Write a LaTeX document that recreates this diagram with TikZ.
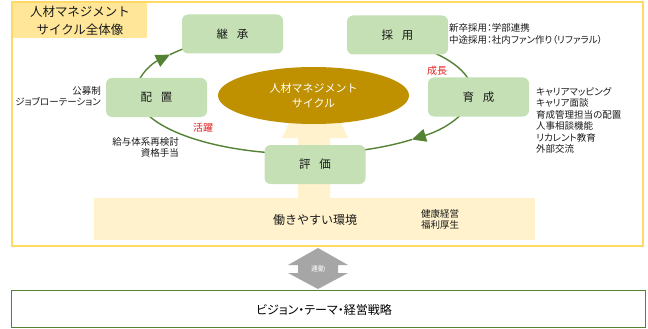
\documentclass[tikz,border=0pt]{standalone}
\usepackage{fontspec}
\setmainfont{Noto Sans CJK JP}
\newfontfamily\pfont[RawFeature=+palt]{Noto Sans CJK JP}
\usetikzlibrary{arrows.meta,calc,shapes.geometric}
\definecolor{frameY}{HTML}{FFD966}
\definecolor{titleY}{HTML}{FFE699}
\definecolor{paleY}{HTML}{FFF2CC}
\definecolor{boxG}{HTML}{C5E0B4}
\definecolor{ringG}{HTML}{548235}
\definecolor{goldC}{HTML}{BF9000}
\definecolor{redT}{HTML}{E0201E}
\definecolor{grayA}{HTML}{A6A6A6}
\definecolor{txt}{HTML}{1A1A1A}
\begin{document}
\begin{tikzpicture}[x=1pt,y=-1pt,
  stagebox/.style={rectangle, rounded corners=6pt, fill=boxG, minimum width=101pt, minimum height=39pt, inner sep=0pt, text=txt, font=\fontsize{11.5}{13}\selectfont},
  sidetext/.style={text=txt, inner sep=0pt, font=\pfont\fontsize{9.5}{11.4}\selectfont},
  redlabel/.style={text=redT, inner sep=0pt, font=\pfont\fontsize{10}{12}\selectfont},
  ring/.style={draw=ringG, line width=1.4pt},
  ringarrow/.style={ring, -{Triangle[length=14pt,width=13pt]}},
]
\useasboundingbox (0,0) rectangle (648,329);
% outer frame and title
\node[draw=frameY, line width=2pt, minimum width=631pt, minimum height=244pt, inner sep=0pt] (frame) at (327.5,124) {};
\node[fill=titleY, minimum width=134pt, minimum height=35pt, inner sep=0pt, align=center, text=txt, font=\fontsize{12.5}{18}\selectfont] (title) at (80,20.5) {人材マネジメント\\サイクル全体像};
% environment band and up arrow
\node[fill=paleY, minimum width=441pt, minimum height=42pt, inner sep=0pt] (env) at (314.5,219) {};
\fill[paleY] (298,200) -- (298,138) -- (282,138) -- (315,68) -- (348,138) -- (330,138) -- (330,200) -- cycle;
\node[text=txt, font=\fontsize{12}{14}\selectfont, inner sep=0pt] (envtext) at (315,220) {働きやすい環境};
\node[sidetext, align=left] (kenko) at (440,219.5) {健康経営\\福利厚生};
% ring
\coordinate (rc) at (304,92);
\draw[ringarrow] ($(rc)+(175:168pt and 62pt)$) arc[start angle=175, end angle=143, x radius=168pt, y radius=62pt];
\draw[ring] ($(rc)+(143:168pt and 62pt)$) arc[start angle=143, end angle=125, x radius=168pt, y radius=62pt];
\draw[ring] ($(rc)+(55:168pt and 62pt)$) arc[start angle=55, end angle=5, x radius=168pt, y radius=62pt];
\draw[ringarrow] ($(rc)+(-5:168pt and 62pt)$) arc[start angle=-5, end angle=-50, x radius=168pt, y radius=62pt];
\draw[ring] ($(rc)+(-50:168pt and 62pt)$) arc[start angle=-50, end angle=-80, x radius=168pt, y radius=62pt];
\draw[ring] ($(rc)+(-100:168pt and 62pt)$) arc[start angle=-100, end angle=-170, x radius=168pt, y radius=62pt];
% centre ellipse
\node[ellipse, fill=goldC, minimum width=191pt, minimum height=57pt, inner sep=0pt, text=white, align=center, font=\fontsize{11}{15}\selectfont] (cycle) at (313.5,95.5) {人材マネジメント\\サイクル};
% stage boxes
\node[stagebox] (keisho) at (232.5,34) {継\hspace{0.78em}承};
\node[stagebox] (saiyo) at (397.5,35) {採\hspace{0.78em}用};
\node[stagebox] (haichi) at (156.5,97.5) {配\hspace{0.78em}置};
\node[stagebox] (ikusei) at (478.5,97) {育\hspace{0.78em}成};
\node[stagebox] (hyoka) at (315,164.5) {評\hspace{0.78em}価};
% side texts
\node[sidetext, align=right, anchor=east] (kobo) at (101,96) {公募制\\ジョブローテーション};
\node[sidetext, align=right, anchor=east] (kyuyo) at (179,147.5) {給与体系再検討\\資格手当};
\node[sidetext, align=left, anchor=west] (shinsotsu) at (449,34) {新卒採用：学部連携\\中途採用：社内ファン作り（リファラル）};
\node[sidetext, align=left, anchor=west] (career) at (536,120.5) {キャリアマッピング\\キャリア面談\\育成管理担当の配置\\人事相談機能\\リカレント教育\\外部交流};
\node[redlabel] (seicho) at (437,71) {成長};
\node[redlabel] (katsuyaku) at (203,128) {活躍};
% link arrow
\fill[grayA] (318,248) -- (348,265) -- (338,265) -- (338,273) -- (348,273) -- (318,289) -- (288,273) -- (298,273) -- (298,265) -- (288,265) -- cycle;
\node[text=white, font=\fontsize{7}{8}\selectfont, inner sep=0pt] (rendo) at (318,269) {連動};
% vision box
\node[draw=ringG, line width=1.5pt, minimum width=634pt, minimum height=37pt, inner sep=0pt] (vision) at (328.5,309) {};
\node[font=\pfont\fontsize{12}{14}\selectfont, text=black, inner sep=0pt] (visiontext) at (324,310) {ビジョン・テーマ・経営戦略};
\end{tikzpicture}
\end{document}
